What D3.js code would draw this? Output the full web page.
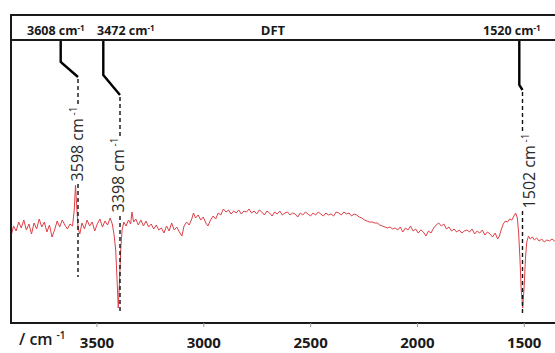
<!DOCTYPE html>
<html>
<head>
<meta charset="utf-8">
<script src="https://cdn.jsdelivr.net/npm/d3@7"></script>
<style>
  body { margin: 0; background: #fff; }
  svg { display: block; font-family: 'Open Sans', sans-serif; }
</style>
</head>
<body>
<div id="chart"></div>
<script>
// IR difference spectrum, wavenumber in cm-1, intensity in arbitrary units
var wavenumbers = [
  3900, 3888, 3876, 3864, 3852, 3840, 3828, 3816, 3804, 3792, 3780, 3768, 3756, 3744, 3732, 3720, 3708, 3696, 3684, 3672, 3660, 3648, 3636, 3624, 3612,
  3604, 3598, 3592, 3586, 3578, 3568,
  3556, 3544, 3532, 3520, 3508, 3496, 3484, 3472, 3460, 3448, 3436,
  3426, 3418, 3410, 3404, 3398, 3392, 3386, 3380,
  3372, 3362, 3350, 3340, 3334, 3326, 3316,
  3304, 3292, 3280, 3268, 3256, 3244, 3232, 3220, 3208, 3196, 3184, 3172, 3160, 3148, 3136, 3124, 3112,
  3100, 3090, 3078, 3066, 3054, 3046, 3036,
  3024, 3012, 3000, 2988,
  2978, 2966, 2954, 2942, 2930, 2918, 2906, 2894, 2882, 2870, 2858, 2846, 2834, 2822, 2810, 2798, 2786, 2774, 2762, 2750,
  2738, 2726, 2714, 2702, 2690, 2678, 2666, 2654, 2642, 2630, 2618, 2606, 2594, 2582, 2570, 2558, 2546, 2534, 2522, 2510,
  2498, 2486, 2474, 2462, 2450, 2438, 2426, 2414, 2402, 2390, 2378, 2366, 2354, 2342, 2330, 2318, 2306, 2294, 2282, 2270,
  2258, 2246, 2234, 2222, 2210, 2198, 2186, 2174, 2162, 2150, 2138, 2126, 2114, 2102, 2090, 2078, 2066, 2054, 2042, 2030,
  2018, 2006, 1994, 1982, 1970, 1958, 1946, 1934, 1922, 1910, 1898, 1886, 1874, 1862, 1850, 1838, 1826, 1814, 1802, 1790,
  1778, 1766, 1754, 1742, 1730, 1718, 1706, 1694, 1682, 1670, 1658, 1646, 1634, 1622,
  1614, 1606, 1596, 1586, 1576, 1566, 1556, 1546, 1538, 1530, 1524, 1518, 1512, 1505, 1498, 1492, 1486, 1478, 1470, 1460, 1450, 1440,
  1428, 1416, 1404, 1392, 1380, 1368, 1356, 1344,
  1330, 1316, 1300
]
var intensity = [
  -8, 2, -3, 6, 0, 8, -2, 4, -6, 5, -1, 9, 1, 6, -4, 3, -9, -2, 7, 1, 8, 3, -1, 4, 2,
  18, 43, 20, 0, -6, 5,
  -1, 8, 2, 6, -3, 4, 9, 1, 7, 3, 10,
  4, -6, -22, -50, -80, -52, -20, -2,
  6, 2, 8, 4, 16, 6, 9,
  3, 8, 2, 7, 1, 4, -1, 3, -2, 0, -5, 2, -3, 5, -2, 1, -4,
  -8, 2, 6, 3, 9, 15, 10,
  13, 8, 11, 5,
  2, 8, 12, 9, 15, 13, 19, 16, 18, 14, 17, 15, 18, 14, 17, 16, 19, 15, 17, 14,
  18, 16, 13, 17, 15, 12, 16, 14, 17, 13, 15, 16, 13, 15, 14, 11, 15, 13, 16, 14,
  12, 15, 13, 16, 14, 12, 15, 13, 14, 12, 16, 15, 13, 16, 14, 15, 12, 14, 13, 11,
  10, 8, 7, 6, 6, 5, 5, 3, 2, 1, 0, 1, -1, 0, -2, 1, -4, 0, -2, 2,
  -3, -1, -5, -2, -4, -8, -3, -5, 0, 3, 5, 2, 4, -1, 1, -3, -1, -4, -2, -5,
  -3, -2, -4, -1, -6, -3, -5, -2, -7, -4, -6, -9, -5, -11,
  -8, -2, 4, 7, 6, 9, 8, 12, 15, 10, -5, -30, -62, -80, -58, -30, -14, -8, -11, -9, -12, -10,
  -13, -11, -14, -12, -13, -11, -13, -12,
  -14, -12, -13
]

// Ticks and annotations
var tickValues = [3500, 3000, 2500, 2000, 1500]
var peakLabels = ['3598', '3398', '1502']
var calcLabels = ['3608', '3472', '1520']
var title = 'DFT'

var width = 555
var height = 353
var frame = { left: 11, top: 15, header: 40, bottom: 323 }

var svg = d3.select('#chart')
  .append('svg')
  .attr('width', width)
  .attr('height', height)

var x = d3.scaleLinear().domain([3900, 1300]).range([11, 566.5])
var y = d3.scaleLinear().domain([-95, 188]).range([frame.bottom, frame.header])

var dataset = wavenumbers.map((w, i) => ({ wn: w, val: intensity[i] }))

// where each annotation goes (leader top x, kink, dashed line, rotated label)
var annot = [
  { peak: 3598, textX: 27, leadX: 60.7, kinkY: 62, endX: 78, endY: 77, dashEnd: 277, labelX: 77.5, labelY: 144 },
  { peak: 3398, textX: 97, leadX: 103.3, kinkY: 75, endX: 120, endY: 95, dashEnd: 312, labelX: 118.3, labelY: 175 },
  { peak: 1502, textX: 483, leadX: 519.3, kinkY: 85, endX: 522.5, endY: 90, dashEnd: 313, labelX: 529, labelY: 171 }
]

svg.append('clipPath').attr('id', 'plot-clip')
  .append('rect')
  .attr('x', frame.left).attr('y', frame.header)
  .attr('width', width - frame.left).attr('height', frame.bottom - frame.header)

// spectrum
var line = d3.line()
  .x(d => x(d.wn))
  .y(d => y(d.val))

svg.append('path')
  .datum(dataset)
  .attr('clip-path', 'url(#plot-clip)')
  .attr('fill', 'none')
  .attr('stroke', '#dd3f47')
  .attr('stroke-width', 1)
  .attr('stroke-linejoin', 'round')
  .attr('d', line)

// dashed markers and leaders
annot.forEach((a, i) => {
  svg.append('line')
    .attr('x1', a.endX).attr('x2', a.endX)
    .attr('y1', a.endY + 2).attr('y2', a.dashEnd)
    .attr('stroke', '#111')
    .attr('stroke-width', 1.4)
    .attr('stroke-dasharray', '4,3')

  svg.append('path')
    .attr('d', `M${a.leadX},${frame.header}V${a.kinkY}L${a.endX},${a.endY}`)
    .attr('fill', 'none')
    .attr('stroke', '#000')
    .attr('stroke-width', 2.4)

  var g = svg.append('g')
    .attr('transform', `translate(${a.labelX},${a.labelY}) rotate(-90)`)
  var bg = g.append('rect').attr('fill', '#fff')
  var t = g.append('text')
    .attr('text-anchor', 'middle')
    .attr('dy', '0.35em')
    .attr('font-size', 16)
    .attr('fill', '#2a2a2a')
  t.append('tspan').text(peakLabels[i] + ' cm')
  t.append('tspan').attr('dy', '-0.6em').attr('font-size', 10).text(' -1')
  var bb = t.node().getBBox()
  bg.attr('x', bb.x - 1).attr('y', bb.y + 2).attr('width', bb.width + 2).attr('height', bb.height - 3)
})

// frame
svg.append('rect')
  .attr('x', frame.left).attr('y', frame.top)
  .attr('width', width + 10 - frame.left).attr('height', frame.bottom - frame.top)
  .attr('fill', 'none')
  .attr('stroke', '#1a1a1a')
  .attr('stroke-width', 2)

svg.append('line')
  .attr('x1', frame.left).attr('x2', width)
  .attr('y1', frame.header).attr('y2', frame.header)
  .attr('stroke', '#1a1a1a')
  .attr('stroke-width', 2)

// header labels
annot.forEach((a, i) => {
  var t = svg.append('text')
    .attr('x', a.textX).attr('y', 35)
    .attr('font-size', 12.5)
    .attr('font-weight', 700)
    .attr('fill', '#1a1a1a')
  t.append('tspan').text(calcLabels[i] + ' cm')
  t.append('tspan').attr('dy', '-0.5em').attr('font-size', 8).text('-1')
})

svg.append('text')
  .attr('x', 273).attr('y', 35)
  .attr('text-anchor', 'middle')
  .attr('font-size', 13)
  .attr('font-weight', 700)
  .attr('fill', '#1a1a1a')
  .text(title)

// x axis
var xAxis = d3.axisBottom(x)
  .tickValues(tickValues)
  .tickSize(4)
  .tickFormat(d3.format('d'))

var ax = svg.append('g')
  .attr('transform', `translate(0,${frame.bottom})`)
  .call(xAxis)
ax.select('.domain').remove()
ax.selectAll('.tick line').attr('stroke', '#999')
ax.selectAll('.tick text')
  .attr('y', 14)
  .attr('font-family', "'Open Sans', sans-serif")
  .attr('font-size', 15)
  .attr('font-weight', 700)
  .attr('fill', '#1a1a1a')

var unit = svg.append('text')
  .attr('x', 19).attr('y', 345)
  .attr('font-size', 16)
  .attr('font-weight', 600)
  .attr('fill', '#1a1a1a')
unit.append('tspan').text('/ cm')
unit.append('tspan').attr('dx', 4).attr('dy', -6).attr('font-size', 10).text('-1')
</script>
</body>
</html>
